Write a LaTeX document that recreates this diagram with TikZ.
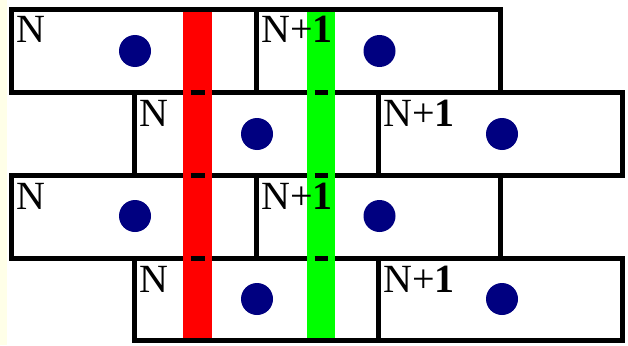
\documentclass[tikz,border=0pt]{standalone}
\usepackage{fontspec}
\setmainfont{Liberation Serif}
\definecolor{paleyellow}{RGB}{255,255,232}
\definecolor{dotblue}{RGB}{0,0,128}
\definecolor{bandred}{RGB}{255,0,0}
\definecolor{bandgreen}{RGB}{0,255,0}
\begin{document}
\begin{tikzpicture}[x=1pt,y=-1pt,
  brick/.style={draw=black,line width=5pt,fill=white,minimum height=83pt,inner sep=0pt,outer sep=0pt},
  wide/.style={brick,minimum width=245pt},
  narrow/.style={brick,minimum width=244pt},
  dot/.style={circle,fill=dotblue,draw=none,minimum size=32pt,inner sep=0pt},
  lbl/.style={anchor=base west,inner sep=0pt,font=\fontsize{40}{40}\selectfont},
  tick/.style={line width=5pt,black}]
\useasboundingbox (0,0) rectangle (628,345);
\fill[white] (0,0) rectangle (628,345);
\fill[paleyellow] (0,0) rectangle (7,345);
% bricks
\node[wide,minimum height=82.5pt] (r1a) at (134,50.75) {};
\node[narrow,minimum height=82.5pt] (r1b) at (378.5,50.75) {};
\node[narrow] (r2a) at (256.5,133.5) {};
\node[narrow] (r2b) at (500.5,133.5) {};
\node[wide] (r3a) at (134,216.5) {};
\node[narrow] (r3b) at (378.5,216.5) {};
\node[narrow,minimum height=82.5pt] (r4a) at (256.5,299.25) {};
\node[narrow,minimum height=82.5pt] (r4b) at (500.5,299.25) {};
% dots
\node[dot] (d1a) at (135,51) {};
\node[dot] (d1b) at (379.5,51) {};
\node[dot] (d2a) at (257,134) {};
\node[dot] (d2b) at (502,134) {};
\node[dot] (d3a) at (135,216) {};
\node[dot] (d3b) at (379.5,216) {};
\node[dot] (d4a) at (257,299) {};
\node[dot] (d4b) at (502,299) {};
% bands
\fill[bandred] (183,12) rectangle (212,338);
\fill[bandgreen] (307,12) rectangle (335,338);
% ticks where row lines cross the bands
\foreach \y in {92,175,258}{
  \draw[tick] (190.5,\y) -- (204.5,\y);
  \draw[tick] (314.5,\y) -- (328,\y);
}
% labels
\node[lbl] (l1a) at ([shift={(5,33.5)}]r1a.north west) {N};
\node[lbl] (l1b) at ([shift={(4.5,33.5)}]r1b.north west) {N+\textbf{1}};
\node[lbl] (l2a) at ([shift={(4.5,34)}]r2a.north west) {N};
\node[lbl] (l2b) at ([shift={(4.5,34)}]r2b.north west) {N+\textbf{1}};
\node[lbl] (l3a) at ([shift={(5,34)}]r3a.north west) {N};
\node[lbl] (l3b) at ([shift={(4.5,34)}]r3b.north west) {N+\textbf{1}};
\node[lbl] (l4a) at ([shift={(4.5,34)}]r4a.north west) {N};
\node[lbl] (l4b) at ([shift={(4.5,34)}]r4b.north west) {N+\textbf{1}};
\end{tikzpicture}
\end{document}
